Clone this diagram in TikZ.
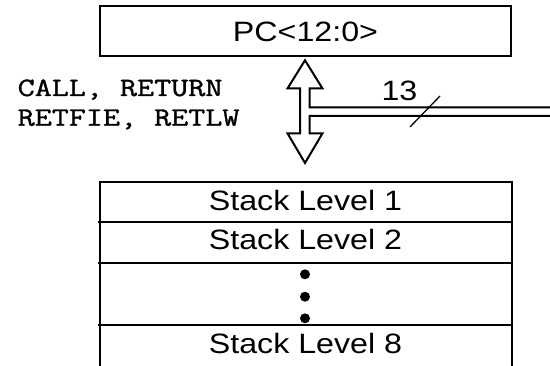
\documentclass[tikz,border=0pt]{standalone}
\usepackage{fontspec}
\setmainfont{Liberation Sans}
\newfontfamily\labelfont[FakeStretch=1.15]{Liberation Sans}
\newfontfamily\opfont[FakeStretch=1.25,FakeBold=1.3]{Latin Modern Mono}

\begin{document}
\begin{tikzpicture}[x=1pt,y=-1pt,
  boxline/.style={line width=2pt},
  busline/.style={line width=2pt, line join=miter},
  celltext/.style={anchor=base, inner sep=0pt, font=\labelfont\fontsize{28}{30}\selectfont},
  optext/.style={anchor=base west, inner sep=0pt, font=\opfont\fontsize{26.5}{30}\selectfont},
  stackdot/.style={fill=black, circle, inner sep=0pt, minimum size=10pt}]

\useasboundingbox (0,0) rectangle (550,366);

% program counter register
\node[draw, boxline, minimum width=411.5pt, minimum height=50.5pt, inner sep=0pt] (pc) at (305.5,31.2) {};
\node[celltext] (pclabel) at (305.5,41.7) {PC<12:0>};

% instructions that push or pop the stack
\node[optext] (ops1) at (17.5,96) {CALL, RETURN};
\node[optext] (ops2) at (17.5,125.7) {RETFIE, RETLW};

% double-headed transfer arrow joined to the 13-bit bus
\coordinate (bustop) at (552,107.5);
\coordinate (busbot) at (552,116);
\draw[busline] (bustop) -- (309.5,107.5) -- (309.5,88.5) -- (322.5,88.5) -- (305,60.3)
  -- (287.5,88.5) -- (300,88.5) -- (300,133.3) -- (287.5,133.3) -- (305,163)
  -- (322.5,133.3) -- (309.5,133.3) -- (309.5,116) -- (busbot);

% bus width mark
\coordinate (slashA) at (410,127);
\coordinate (slashB) at (440,96);
\draw[line width=1.3pt] (slashA) -- (slashB);
\node[celltext] (width) at (399.5,101) {13};

% hardware stack, open at the bottom
\draw[boxline] (100,370) -- (100,182.3) -- (511.5,182.3) -- (511.5,370);
\draw[boxline] (97.5,222) -- (511.5,222);
\draw[boxline] (97.5,262.7) -- (511.5,262.7);
\draw[boxline] (97.5,325) -- (511.5,325);

\node[celltext] (lvl1) at (305.5,210.7) {Stack Level 1};
\node[celltext] (lvl2) at (305.5,250) {Stack Level 2};
\node[stackdot] (d1) at (305,274.3) {};
\node[stackdot] (d2) at (305,296.7) {};
\node[stackdot] (d3) at (305,318.3) {};
\node[celltext] (lvl8) at (305.5,354) {Stack Level 8};

\end{tikzpicture}
\end{document}
